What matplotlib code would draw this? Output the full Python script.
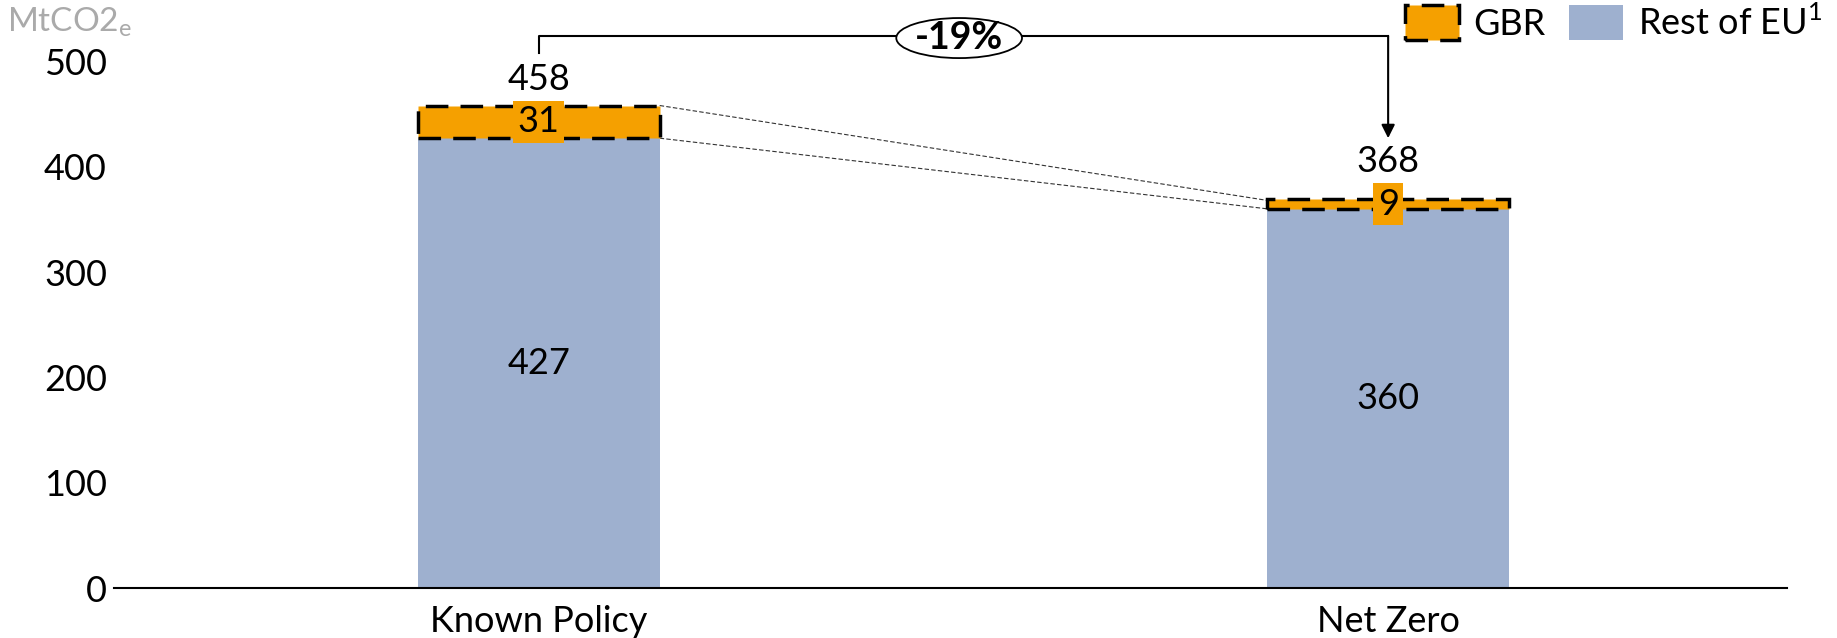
import matplotlib.pyplot as plt
from matplotlib.patches import Patch, Ellipse
import numpy as np

plt.rcParams['font.family'] = ['Lato', 'DejaVu Sans']

# data
scenarios = ["Known Policy", "Net Zero"]
rest_eu = [427, 360]
gbr = [31, 9]
totals = [458, 368]
change_label = "-19%"

c_gbr = "#F5A000"
c_eu = "#9EB0CF"
fs = 26
dash = (0, (6.5, 3.5))

fig = plt.figure(figsize=(18.37, 6.38), dpi=100)
ax = fig.add_axes([0.062, 0.078, 0.911, 0.826])

x = np.arange(len(scenarios))
w = 0.285
ax.bar(x, rest_eu, width=w, color=c_eu, zorder=2)
ax.bar(x, gbr, width=w, bottom=rest_eu, color=c_gbr, edgecolor="black",
       linewidth=2.5, linestyle=dash, zorder=3)

for i in range(len(x)):
    mid_gbr = rest_eu[i] + gbr[i] / 2
    ax.text(x[i], rest_eu[i] / 2, str(rest_eu[i]), ha="center", va="center", fontsize=fs)
    ax.text(x[i], mid_gbr, str(gbr[i]), ha="center", va="center", fontsize=fs,
            zorder=5, bbox=dict(boxstyle="square,pad=0.12", fc=c_gbr, ec="none"))
    ax.text(x[i], mid_gbr + 30, str(totals[i]), ha="center", va="baseline", fontsize=fs)

# thin dashed connectors between bar tops
ax.plot([x[0] + w / 2, x[1] - w / 2], [totals[0], totals[1]], color="#333333", lw=0.8, ls=(0, (4, 2)), zorder=1)
ax.plot([x[0] + w / 2, x[1] - w / 2], [rest_eu[0], rest_eu[1]], color="#333333", lw=0.8, ls=(0, (4, 2)), zorder=1)

# bracket with arrow
top_y = 524
ax.plot([x[0], x[0], x[1], x[1]], [508, top_y, top_y, top_y], color="black", lw=1.5,
        clip_on=False, zorder=4)
ax.annotate("", xy=(x[1], 427), xytext=(x[1], top_y),
            arrowprops=dict(arrowstyle="-|>", color="black", lw=1.5, mutation_scale=20,
                            shrinkA=0, shrinkB=0),
            annotation_clip=False)
mid = 0.5 * (x[0] + x[1]) - 0.005
ax.add_patch(Ellipse((mid, top_y - 2), 0.148, 38, fc="white", ec="black", lw=1.3,
                     clip_on=False, zorder=5))
ax.text(mid, top_y - 2, change_label, ha="center", va="center", fontsize=27, fontweight="bold",
        zorder=6, clip_on=False)

ax.set_xlim(-0.5, 1.47)
ax.set_ylim(0, 500)
ax.set_yticks([0, 100, 200, 300, 400, 500])
ax.set_xticks(x)
ax.set_xticklabels(scenarios)
ax.tick_params(axis="both", length=0, labelsize=fs)
ax.tick_params(axis="y", pad=5)
ax.tick_params(axis="x", pad=12)
for s in ["top", "right", "left"]:
    ax.spines[s].set_visible(False)
ax.spines["bottom"].set_linewidth(1.5)

fig.text(0.004, 0.966, "MtCO2$_\\mathregular{e}$", fontsize=24, color="#AAAAAA", va="center")

handles = [Patch(facecolor=c_gbr, edgecolor="black", linewidth=2.5, linestyle=dash, label="GBR"),
           Patch(facecolor=c_eu, edgecolor="none", label="Rest of EU$^\\mathregular{1}$")]
fig.legend(handles=handles, loc="upper right", bbox_to_anchor=(0.992, 0.993), ncol=2, frameon=False,
           fontsize=fs, handlelength=1.5, handleheight=1.15, columnspacing=0.65, handletextpad=0.4,
           borderpad=0, borderaxespad=0)

fig.savefig("out.png", dpi=100)
